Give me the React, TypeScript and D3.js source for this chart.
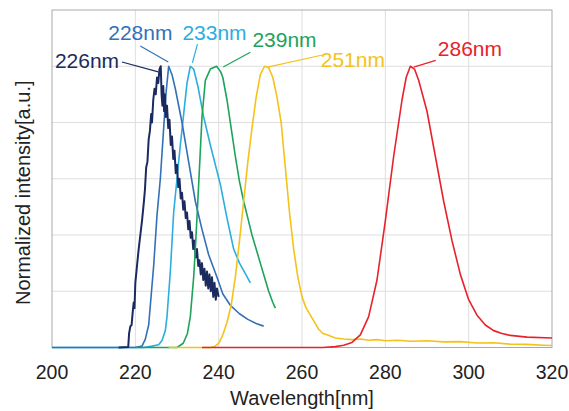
import React, { useEffect, useRef } from 'react'
import * as d3 from 'd3'

type Pt = [number, number]

// wavelength [nm], normalized intensity
const s226: Pt[] = [
  [216, 0], [218.3, 0.002], [218.5, 0.05], [218.8, 0.075], [219.1, 0.08], [219.4, 0.13], [219.6, 0.16],
  [219.8, 0.14], [220, 0.23], [220.4, 0.29], [220.8, 0.35], [221.2, 0.4], [221.6, 0.45], [222, 0.51],
  [222.3, 0.56], [222.6, 0.64], [222.9, 0.66], [223.2, 0.74], [223.5, 0.77], [223.8, 0.83], [224, 0.8],
  [224.3, 0.88], [224.6, 0.92], [224.9, 0.9], [225.2, 0.96], [225.5, 0.94], [225.8, 0.99], [226.1, 1.0],
  [226.3, 0.9], [226.5, 0.86], [226.7, 0.93], [226.9, 0.84], [227.1, 0.9], [227.3, 0.82], [227.6, 0.86],
  [227.9, 0.78], [228.2, 0.81], [228.5, 0.72], [228.8, 0.75], [229.1, 0.67], [229.4, 0.7], [229.7, 0.62],
  [230, 0.65], [230.3, 0.57], [230.6, 0.6], [230.9, 0.53], [231.2, 0.55], [231.5, 0.49], [231.8, 0.52],
  [232.1, 0.46], [232.4, 0.48], [232.7, 0.42], [233, 0.45], [233.3, 0.39], [233.6, 0.41], [233.9, 0.35],
  [234.2, 0.38], [234.5, 0.32], [234.8, 0.35], [235.1, 0.29], [235.4, 0.31], [235.7, 0.26], [236, 0.3],
  [236.3, 0.24], [236.6, 0.28], [236.9, 0.22], [237.2, 0.27], [237.5, 0.21], [237.8, 0.26], [238.1, 0.2],
  [238.4, 0.25], [238.7, 0.18], [239, 0.23], [239.3, 0.17], [239.6, 0.21], [240, 0.18],
]
const s228: Pt[] = [
  [200, 0], [220, 0], [221.6, 0.005], [222.4, 0.03], [223.2, 0.08], [224.4, 0.29], [225.2, 0.47],
  [226, 0.6], [226.8, 0.78], [227.4, 0.91], [228, 1.0], [228.8, 0.97], [229.6, 0.92], [231.2, 0.8],
  [232.8, 0.66], [234.4, 0.52], [236, 0.42], [237.6, 0.33], [239.6, 0.25], [241, 0.19], [242.8, 0.15],
  [245, 0.12], [247, 0.1], [249, 0.085], [250.8, 0.076],
]
const s233: Pt[] = [
  [200, 0], [222, 0], [224, 0.005], [225.6, 0.01], [226.4, 0.025], [227.2, 0.06], [227.6, 0.11],
  [228.4, 0.27], [229.2, 0.48], [230, 0.6], [230.8, 0.72], [231.6, 0.83], [232.4, 0.94], [233.2, 1.0],
  [234, 0.99], [235, 0.93], [236.4, 0.82], [238, 0.72], [240.4, 0.58], [242, 0.46], [243.6, 0.35],
  [245, 0.3], [246.5, 0.26], [247.6, 0.23],
]
const s239: Pt[] = [
  [220, 0], [230, 0], [231.5, 0.015], [232.5, 0.05], [233.2, 0.11], [234, 0.25], [234.4, 0.35],
  [235.2, 0.58], [236, 0.82], [236.8, 0.95], [238, 0.99], [239.5, 1.0], [240.5, 0.98], [241, 0.96],
  [242, 0.88], [243, 0.78], [244, 0.68], [245, 0.59], [246, 0.52], [247, 0.46], [248, 0.4], [249, 0.35],
  [250, 0.3], [251, 0.25], [252, 0.2], [253, 0.16], [253.6, 0.14],
]
const s251: Pt[] = [
  [228, 0], [238, 0], [239, 0.003], [240, 0.015], [241, 0.045], [242, 0.09], [243, 0.15], [244, 0.25],
  [245, 0.38], [246, 0.52], [247, 0.66], [248, 0.78], [249, 0.89], [250, 0.97], [251, 1.0], [252, 0.995],
  [253, 0.96], [254, 0.89], [255, 0.8], [256, 0.64], [257, 0.48], [258, 0.35], [259, 0.25], [260, 0.18],
  [261, 0.14], [262, 0.115], [263, 0.09], [264, 0.065], [265, 0.05], [266, 0.045], [268, 0.034],
  [270, 0.03], [272, 0.028], [274, 0.03], [276, 0.026], [278, 0.028], [280, 0.024], [283, 0.026],
  [286, 0.022], [290, 0.024], [294, 0.02], [298, 0.021], [302, 0.016], [306, 0.017], [310, 0.012],
  [314, 0.011], [318, 0.008], [320, 0.007],
]
const s286: Pt[] = [
  [236, 0], [265, 0], [268, 0.003], [270, 0.008], [272, 0.018], [274, 0.045], [276, 0.11], [278, 0.24],
  [280, 0.45], [282, 0.68], [284, 0.88], [285, 0.96], [286, 1.0], [287, 0.99], [288, 0.95], [290, 0.84],
  [292, 0.68], [294, 0.52], [296, 0.38], [298, 0.26], [300, 0.17], [302, 0.115], [304, 0.08], [306, 0.06],
  [308, 0.05], [310, 0.043], [314, 0.037], [320, 0.034],
]

const seriesNames = ['233nm', '228nm', '226nm', '239nm', '251nm', '286nm']
const seriesData = [s233, s228, s226, s239, s251, s286]
const seriesColors = ['#2aaee0', '#3470b8', '#1b2b60', '#1ea35c', '#f3c31c', '#e8222c']

// annotation text anchors and leader lines (data units)
const labelPos: Pt[] = [[231.3, 1.093], [213.5, 1.093], [200.7, 0.994], [248.1, 1.068], [264.5, 0.997], [292.6, 1.035]]
const leaderFrom: Pt[] = [[234.9, 1.079], [221.2, 1.072], [216.8, 1.015], [247.6, 1.05], [264.9, 1.04], [292.1, 1.021]]
const leaderTo: Pt[] = [[233.7, 1.012], [227.9, 1.015], [225.5, 0.98], [241.1, 0.997], [251.7, 0.997], [286.8, 0.997]]

const xTicks = [200, 220, 240, 260, 280, 300, 320]
const yGrid = [0.2, 0.4, 0.6, 0.8, 1.0]

const W = 569
const H = 411
const MARGIN = { LEFT: 52, RIGHT: 17, TOP: 10, BOTTOM: 63.5 }

export default function App() {
  const ref = useRef<SVGSVGElement>(null)

  useEffect(() => {
    const svg = d3.select(ref.current)
    svg.selectAll('*').remove()

    const x = d3.scaleLinear().domain([200, 320]).range([MARGIN.LEFT, W - MARGIN.RIGHT])
    const y = d3.scaleLinear().domain([0, 1.2]).range([H - MARGIN.BOTTOM, MARGIN.TOP])

    svg.append('rect').attr('width', W).attr('height', H).attr('fill', '#fff')

    // grid
    svg.append('g').selectAll('line').data(xTicks.slice(1, -1)).join('line')
      .attr('x1', d => x(d)).attr('x2', d => x(d))
      .attr('y1', y(0)).attr('y2', y(1.2))
      .attr('stroke', '#dedede').attr('stroke-width', 1)
    svg.append('g').selectAll('line').data(yGrid).join('line')
      .attr('x1', x(200)).attr('x2', x(320))
      .attr('y1', d => y(d)).attr('y2', d => y(d))
      .attr('stroke', '#dedede').attr('stroke-width', 1)

    // frame
    svg.append('rect')
      .attr('x', x(200)).attr('y', y(1.2))
      .attr('width', x(320) - x(200)).attr('height', y(0) - y(1.2))
      .attr('fill', 'none').attr('stroke', '#a9a9a9').attr('stroke-width', 1)

    // x tick labels
    svg.append('g').selectAll('text').data(xTicks).join('text')
      .attr('x', d => x(d)).attr('y', y(0) + 31)
      .attr('text-anchor', 'middle')
      .attr('font-family', 'Liberation Sans, Arial, sans-serif')
      .attr('font-size', 19.5).attr('fill', '#222')
      .text(d => d)

    // axis titles
    svg.append('text')
      .attr('x', (x(200) + x(320)) / 2).attr('y', y(0) + 57)
      .attr('text-anchor', 'middle')
      .attr('font-family', 'Liberation Sans, Arial, sans-serif')
      .attr('font-size', 20).attr('fill', '#222')
      .text('Wavelength[nm]')
    svg.append('text')
      .attr('transform', `translate(30, ${(y(0) + y(1.2)) / 2 + 14}) rotate(-90)`)
      .attr('text-anchor', 'middle')
      .attr('font-family', 'Liberation Sans, Arial, sans-serif')
      .attr('font-size', 20).attr('fill', '#222')
      .text('Normalized intensity[a.u.]')

    const line = d3.line<Pt>().x(d => x(d[0])).y(d => y(d[1]))

    svg.append('g').selectAll('path').data(seriesData).join('path')
      .attr('d', d => line(d))
      .attr('fill', 'none')
      .attr('stroke', (d, i) => seriesColors[i])
      .attr('stroke-width', (d, i) => (i === 2 ? 2 : 1.6))
      .attr('stroke-linejoin', 'round')

    // leader lines + labels
    svg.append('g').selectAll('line').data(seriesNames).join('line')
      .attr('x1', (d, i) => x(leaderFrom[i][0])).attr('y1', (d, i) => y(leaderFrom[i][1]))
      .attr('x2', (d, i) => x(leaderTo[i][0])).attr('y2', (d, i) => y(leaderTo[i][1]))
      .attr('stroke', (d, i) => seriesColors[i]).attr('stroke-width', 1.2)
    svg.append('g').selectAll('text').data(seriesNames).join('text')
      .attr('x', (d, i) => x(labelPos[i][0])).attr('y', (d, i) => y(labelPos[i][1]))
      .attr('font-family', 'Liberation Sans, Arial, sans-serif')
      .attr('font-size', 21)
      .attr('fill', (d, i) => seriesColors[i])
      .text(d => d)
  }, [])

  return (
    <svg ref={ref} width={W} height={H} style={{ position: 'absolute', left: 0, top: 0 }} />
  )
}
